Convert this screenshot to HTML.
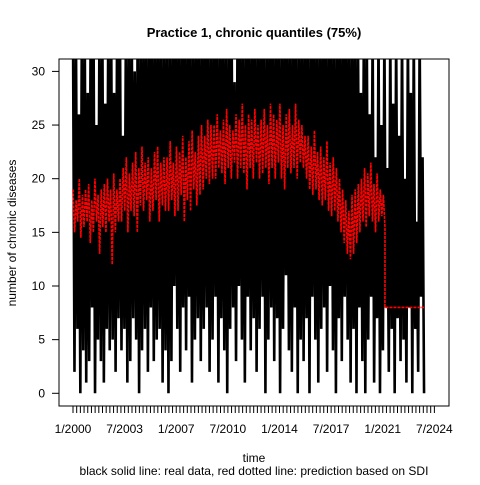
<!DOCTYPE html>
<html><head><meta charset="utf-8"><style>
html,body{margin:0;padding:0;background:#fff;}
svg text{font-family:"Liberation Sans",Arial,sans-serif;}
</style></head><body>
<svg id="chart" width="480" height="480" viewBox="0 0 480 480" xmlns="http://www.w3.org/2000/svg">
<rect x="0" y="0" width="480" height="480" fill="#fff"/>
<text x="254" y="37" text-anchor="middle" font-size="13" font-weight="bold">Practice 1, chronic quantiles (75%)</text>
<text transform="translate(16,233) rotate(-90)" text-anchor="middle" font-size="12">number of chronic diseases</text>
<text x="254" y="462" text-anchor="middle" font-size="12">time</text>
<text x="254" y="475" text-anchor="middle" font-size="12">black solid line: real data, red dotted line: prediction based on SDI</text>
<defs><clipPath id="plotclip"><rect x="59" y="59" width="390" height="347"/></clipPath></defs>
<g id="series" clip-path="url(#plotclip)"></g>
<g id="axes"></g>
<rect x="59" y="59" width="390" height="347" fill="none" stroke="#000" stroke-width="1"/>
</svg>
<script>
const yTicks=[0,5,10,15,20,25,30];
const xLabelYears=[2000,2003.5,2007,2010.5,2014,2017.5,2021,2024.5];
const xLabels=["1/2000","7/2003","1/2007","7/2010","1/2014","7/2017","1/2021","7/2024"];
const dataStart=2000, dataEnd=2023.8, predEnd=2021.15;
const realLows=[2,6,0,4,1,3,8,0,5,3,1,6,4,
5,2,7,4,6,1,3,7,5,0,4,6,2,8,3,5,6,
1,4,0,3,10,6,2,8,4,9,1,5,7,3,
6,8,2,5,9,1,7,4,0,6,8,3,10,5,1,9,4,
7,2,6,9,0,5,8,3,7,0,6,11,4,2,8,0,5,
3,7,0,9,5,1,6,8,2,10,4,0,7,3,9,5,1,
6,0,8,3,0,5,9,1,7,0,4,8,2,6,0,7,3,
5,1,8,0,6,2,9,0];
const realHighs=[34,34,26,34,34,28,34,34,25,34,34,27,34,
34,28,34,34,24,34,34,34,30,34,34,34,34,34,34,34,34,
34,34,34,34,34,34,34,34,34,34,34,34,34,34,
34,34,34,34,34,34,34,34,34,34,34,29,34,34,34,34,34,
34,34,34,34,34,34,34,34,34,34,34,34,34,34,34,34,34,
34,34,34,34,34,34,34,34,34,34,34,34,34,34,34,34,34,
34,34,34,28,34,34,26,34,22,34,25,34,21,34,27,34,24,
34,20,34,28,34,16,34,22];
const predLows=[15,16,14.5,15.5,16,14,15,16,13,15.5,15,16,12,15,16,
16,17,15,17,16.5,15,17.5,17,18,16,17,18,16,17.5,17,
17,18,16.5,17,18.5,16,18,17,19,17.5,18.5,19,20,19.5,20,
20,21,20.5,19.5,21,20,21.5,20,21,20.5,19,21,20,21.5,20,
20.5,21,19.5,21,20,21.5,20,19,21,20.5,21,20,21.5,21,20,
19,18.5,19,18,17.5,18,17,16.5,17,16,
15,14,13,12.5,13,14,15,
16,15.5,16.5,16,15,16,16.5,15.5];
const predHighs=[19,18,20,18.5,19,19.5,18,20,18.5,19,19.5,20,19,20.5,19,
20,21,22,20.5,21.5,22.5,21,23,21.5,22,21,22.5,23,21.5,22,
22,23.5,21.5,23,22.5,24,22,23.5,24.5,22.5,24,25,24,25.5,25,
25,26,24.5,25.5,26.5,25,24.5,26,25.5,27,25,26,25.5,26.5,25,
25.5,26.5,25,27,26,25.5,27,25,26,26.5,25,27,25.5,25,24,
24,23,24.5,22.5,23,22,23.5,21.5,22,21,
20,19,18,17,18.5,19,19.5,
20,21,20.5,21.5,19.5,20.5,19,18.5];
const predTail=8;

const NS="http://www.w3.org/2000/svg";
const X=t=>73+(t-2000)*14.75;
const Y=v=>393.3-v*10.73;
const series=document.getElementById('series');
const axes=document.getElementById('axes');
function mk(tag,attrs,parent){const e=document.createElementNS(NS,tag);for(const k in attrs)e.setAttribute(k,attrs[k]);parent.appendChild(e);return e;}

// real data path
let d='';
const n=realLows.length;
for(let i=0;i<n;i++){
  const t0=dataStart+(dataEnd-dataStart)*(2*i)/(2*n-1);
  const t1=dataStart+(dataEnd-dataStart)*(2*i+1)/(2*n-1);
  d+=(i?'L':'M')+X(t0).toFixed(2)+','+Y(realHighs[i]).toFixed(2)+'L'+X(t1).toFixed(2)+','+Y(realLows[i]).toFixed(2);
}
const rp=mk('path',{d:d,fill:'none',stroke:'#000','stroke-width':2.6,'stroke-linejoin':'bevel'},series);



// prediction path
let pd='';
const m=predLows.length;
for(let i=0;i<m;i++){
  const t0=dataStart+(predEnd-dataStart)*(2*i)/(2*m-1);
  const t1=dataStart+(predEnd-dataStart)*(2*i+1)/(2*m-1);
  pd+=(i?'L':'M')+X(t0).toFixed(2)+','+Y(predHighs[i]).toFixed(2)+'L'+X(t1).toFixed(2)+','+Y(predLows[i]).toFixed(2);
}
pd+='L'+X(predEnd).toFixed(2)+','+Y(predTail).toFixed(2)+'L'+X(dataEnd).toFixed(2)+','+Y(predTail).toFixed(2);
const pp=mk('path',{d:pd,fill:'none',stroke:'#ff0000','stroke-width':1.6,'stroke-dasharray':'3,1','stroke-linejoin':'bevel'},series);



// y axis
yTicks.forEach(v=>{
  const l=mk('line',{x1:52,x2:59,y1:Y(v),y2:Y(v),stroke:'#000'},axes);
  
  
  const t=mk('text',{x:45,y:Y(v)+4,'text-anchor':'end','font-size':12},axes);
  
  
  t.textContent=v;
});
// x ticks quarterly
for(let q=0;q<100;q++){
  const xx=X(2000+q*0.25);
  if(xx>436)break;
  const l=mk('line',{x1:xx,x2:xx,y1:406,y2:413,stroke:'#000'},axes);
  
  
}
xLabelYears.forEach((yr,i)=>{
  const t=mk('text',{x:X(yr),y:433,'text-anchor':'middle','font-size':12},axes);
  
  
  t.textContent=xLabels[i];
});
</script>
</body></html>
